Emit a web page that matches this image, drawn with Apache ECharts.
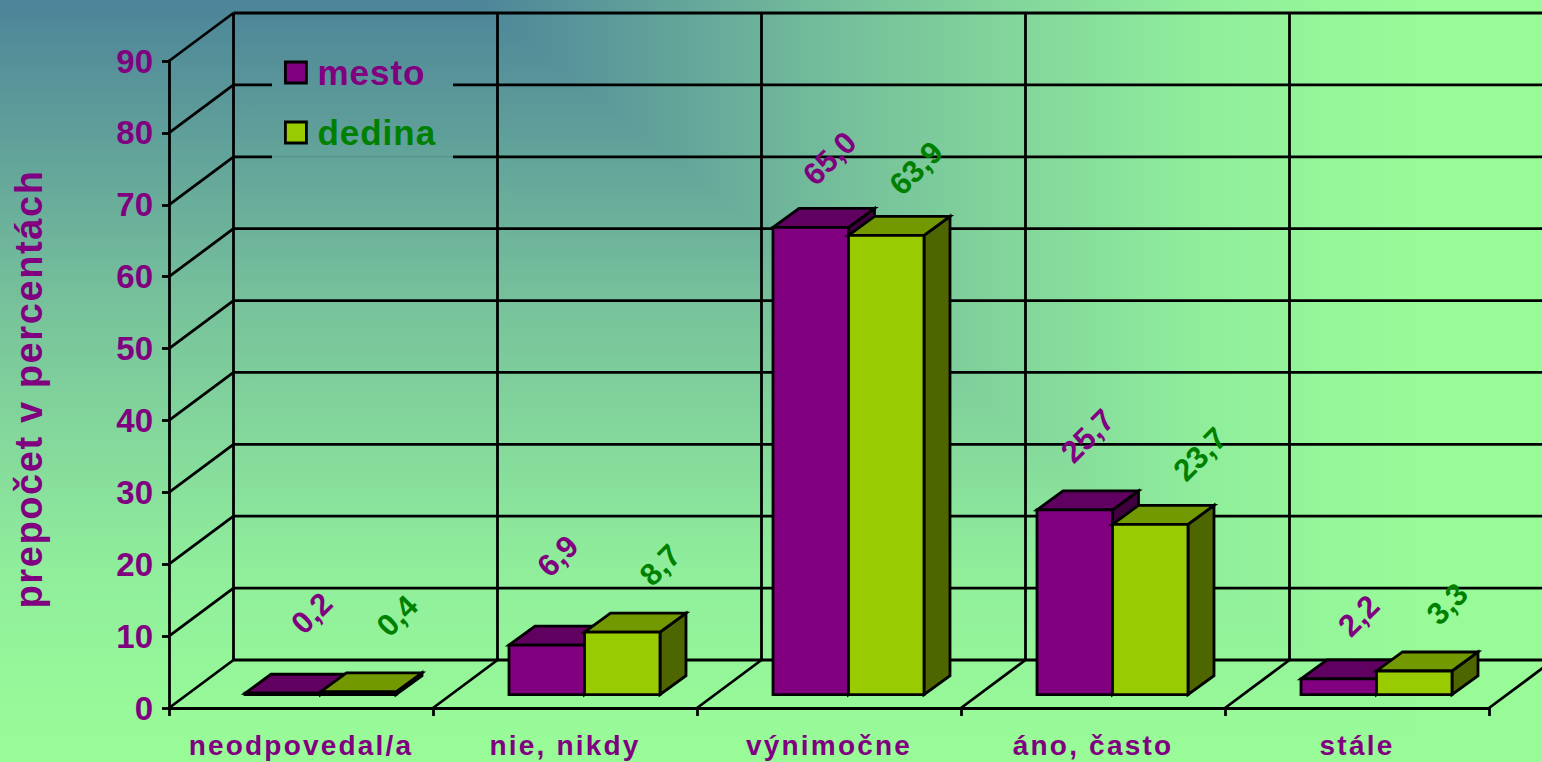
<!DOCTYPE html>
<html>
<head>
<meta charset="utf-8">
<style>
  html, body { margin: 0; padding: 0; width: 1542px; height: 762px; overflow: hidden; }
  body { position: relative; background: linear-gradient(to bottom, #4d8499 0, #77c29b 305px, #90ee9b 571px, #98fb98 740px); }
  #bgUpper { position: absolute; left: 0; top: 0; width: 1542px; height: 762px;
    background: linear-gradient(to right, #4d8499 470px, #77c29b 862px, #90ee9b 1205px, #98fb98 1420px);
    clip-path: polygon(470px 0, 1542px 0, 1542px 762px, 1450px 762px); }
  #chart { position: absolute; left: 0; top: 0; width: 1542px; height: 762px; }
  text[style*="28px"] { letter-spacing: 2.2px; }
  text[style*="38px"] { letter-spacing: 1.6px; }
  text[style*="35px"] { letter-spacing: 1px; }
</style>
</head>
<body>
<div id="bgUpper"></div>
<div id="chart"></div>
<script src="https://cdn.jsdelivr.net/npm/echarts@6/dist/echarts.min.js"></script>
<script>
const categories = ['neodpovedal/a', 'nie, nikdy', 'výnimočne', 'áno, často', 'stále'];
const mesto = [0.2, 6.9, 65.0, 25.7, 2.2];
const dedina = [0.4, 8.7, 63.9, 23.7, 3.3];
const yTicks = [0, 10, 20, 30, 40, 50, 60, 70, 80, 90];
const yTitle = 'prepočet v percentách';

// 3D layout (pixels relative to the axes)
const WALL = { dx: 64.5, dy: -48 };
const BAR = { w: 75.5, frontDx: 19.5, frontDy: -13.3, depthX: 26, depthY: -19 };
const LEGEND_GAP = { x0: 272, x1: 453, ticks: [70, 80] };
const LINE = 2.8;
const mestoLabelShift = [[29, -80], [11, -89], [19, -69], [13, -74], [20, -63]];
const dedinaLabelShift = [[39, -76], [38, -67], [30, -67], [50, -70], [33, -67]];

const PURPLE = '#800080', GREEN = '#008000';
const blackLine = { stroke: '#000', lineWidth: LINE, fill: null };
const seg = (x1, y1, x2, y2, style) => ({ type: 'line', shape: { x1, y1, x2, y2 }, style: style || blackLine });

function renderWallTick(params, api) {
  const v = api.value(1);
  const p = api.coord([0, v]);
  const cs = params.coordSys;
  const y = p[1], x0 = cs.x, wallX = x0 + WALL.dx, wallY = y + WALL.dy, right = x0 + cs.width + WALL.dx;
  const children = [seg(x0, y, wallX, wallY)];
  if (LEGEND_GAP.ticks.includes(v)) {
    children.push(seg(wallX, wallY, LEGEND_GAP.x0, wallY));
    children.push(seg(LEGEND_GAP.x1, wallY, right, wallY));
    if (v === 70) children.push(seg(LEGEND_GAP.x0, wallY, LEGEND_GAP.x1, wallY, { stroke: 'rgba(0,0,0,0.12)', lineWidth: 1, fill: null }));
  } else {
    children.push(seg(wallX, wallY, right, wallY));
  }
  return { type: 'group', children };
}

function renderWallEdges(params, api) {
  const cs = params.coordSys;
  const band = api.size([1, 0])[0];
  const left = cs.x + band * params.dataIndex;
  const bottom = cs.y + cs.height, top = cs.y;
  const children = [seg(left + WALL.dx, top + WALL.dy, left + WALL.dx, bottom + WALL.dy)];
  children.push(seg(left + band, bottom, left + band + WALL.dx, bottom + WALL.dy));
  return { type: 'group', children };
}

function barRenderer(side, colors, shifts) {
  return function (params, api) {
    const i = params.dataIndex;
    const val = api.value(1);
    const top = api.coord([i, val]);
    const base = api.coord([i, 0]);
    const x0 = top[0] + BAR.frontDx + (side < 0 ? -BAR.w : 0);
    const x1 = x0 + BAR.w;
    const yb = base[1] + BAR.frontDy;
    const yt = top[1] + BAR.frontDy;
    const dx = BAR.depthX, dy = BAR.depthY;
    const face = (pts, fill) => ({
      type: 'polygon', shape: { points: pts },
      style: { fill, stroke: '#000', lineWidth: LINE, lineJoin: 'miter' }
    });
    const s = shifts[i];
    return {
      type: 'group',
      children: [
        face([[x1, yb], [x1 + dx, yb + dy], [x1 + dx, yt + dy], [x1, yt]], colors.side),
        face([[x0, yt], [x1, yt], [x1 + dx, yt + dy], [x0 + dx, yt + dy]], colors.top),
        face([[x0, yb], [x1, yb], [x1, yt], [x0, yt]], colors.front),
        {
          type: 'text',
          x: (x0 + x1) / 2 + s[0],
          y: yt + s[1],
          rotation: Math.PI / 4,
          style: {
            text: val.toFixed(1).replace('.', ','),
            fill: colors.text,
            font: 'bold 31px "Liberation Sans", Arial, sans-serif',
            align: 'center',
            verticalAlign: 'middle'
          }
        }
      ]
    };
  };
}

const chart = echarts.init(document.getElementById('chart'), null, { renderer: 'svg', width: 1542, height: 762 });
const fontFamily = '"Liberation Sans", Arial, sans-serif';
const axisStroke = { color: '#000', width: LINE };

chart.setOption({
  backgroundColor: 'transparent',
  animation: false,
  grid: { left: 169, top: 61, width: 1320, height: 647, containLabel: false, outerBoundsMode: 'none' },
  xAxis: {
    type: 'category',
    data: categories,
    axisLine: { show: true, lineStyle: axisStroke },
    axisTick: { show: true, length: 8, lineStyle: axisStroke },
    splitLine: { show: false },
    axisLabel: { color: PURPLE, fontFamily, fontWeight: 'bold', fontSize: 28, margin: 23, interval: 0 }
  },
  yAxis: {
    type: 'value',
    min: 0,
    max: 90,
    interval: 10,
    name: yTitle,
    nameLocation: 'middle',
    nameRotate: 90,
    nameGap: 121,
    nameTextStyle: { color: PURPLE, fontFamily, fontWeight: 'bold', fontSize: 38, padding: [0, 9, 0, 0] },
    axisLine: { show: true, lineStyle: axisStroke },
    axisTick: { show: true, length: 7, lineStyle: axisStroke },
    splitLine: { show: false },
    axisLabel: { color: PURPLE, fontFamily, fontWeight: 'bold', fontSize: 33, margin: 16 }
  },
  legend: {
    orient: 'vertical',
    left: 279,
    top: 50,
    itemWidth: 21,
    itemHeight: 21,
    itemGap: 25,
    selectedMode: false,
    icon: 'rect',
    textStyle: { fontFamily, fontWeight: 'bold', fontSize: 35, padding: [0, 0, 0, 6] },
    data: [
      { name: 'mesto', itemStyle: { color: PURPLE, borderColor: '#000', borderWidth: LINE }, textStyle: { color: PURPLE } },
      { name: 'dedina', itemStyle: { color: '#99cc00', borderColor: '#000', borderWidth: LINE }, textStyle: { color: GREEN } }
    ]
  },
  series: [
    { type: 'custom', name: 'wall-ticks', silent: true, renderItem: renderWallTick, encode: { x: 0, y: 1 },
      data: yTicks.map(v => [0, v]) },
    { type: 'custom', name: 'wall-edges', silent: true, renderItem: renderWallEdges, encode: { x: 0, y: 1 },
      data: categories.map((c, i) => [i, 0]) },
    { type: 'custom', name: 'mesto', itemStyle: { color: PURPLE }, encode: { x: 0, y: 1 },
      renderItem: barRenderer(-1, { front: '#800080', top: '#600060', side: '#400040', text: PURPLE }, mestoLabelShift),
      data: mesto.map((v, i) => [i, v]) },
    { type: 'custom', name: 'dedina', itemStyle: { color: '#99cc00' }, encode: { x: 0, y: 1 },
      renderItem: barRenderer(1, { front: '#99cc00', top: '#739900', side: '#4d6600', text: GREEN }, dedinaLabelShift),
      data: dedina.map((v, i) => [i, v]) }
  ]
});
</script>
</body>
</html>
